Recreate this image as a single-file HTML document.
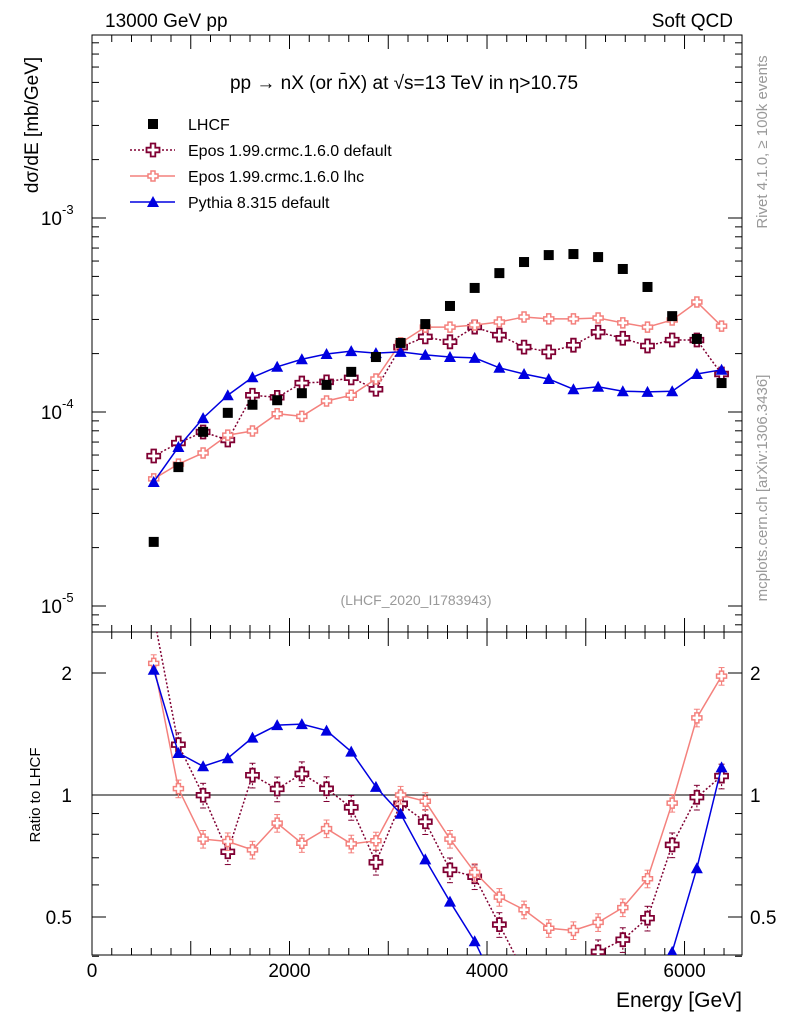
<!DOCTYPE html>
<html><head><meta charset="utf-8"><style>
html,body{margin:0;background:#fff;width:786px;height:1024px;overflow:hidden;position:relative;}
svg{display:block;font-family:"Liberation Sans",sans-serif;}
</style></head><body>
<svg id="chart" width="786" height="1024" style="position:absolute;left:0;top:0"></svg>
<script>
const energies=[625,875,1125,1375,1625,1875,2125,2375,2625,2875,3125,3375,3625,3875,4125,4375,4625,4875,5125,5375,5625,5875,6125,6375];
const lhcf=[2.14e-5,5.2e-5,7.9e-5,9.9e-5,1.09e-4,1.15e-4,1.25e-4,1.38e-4,1.61e-4,1.92e-4,2.27e-4,2.84e-4,3.52e-4,4.36e-4,5.2e-4,5.93e-4,6.44e-4,6.52e-4,6.29e-4,5.46e-4,4.41e-4,3.12e-4,2.38e-4,1.41e-4];
const eposDef=[5.93e-5,6.92e-5,7.89e-5,7.17e-5,1.22e-4,1.19e-4,1.41e-4,1.43e-4,1.50e-4,1.31e-4,2.16e-4,2.44e-4,2.30e-4,2.74e-4,2.49e-4,2.16e-4,2.04e-4,2.21e-4,2.58e-4,2.40e-4,2.19e-4,2.35e-4,2.35e-4,1.57e-4];
const eposLhc=[4.52e-5,5.39e-5,6.15e-5,7.6e-5,7.98e-5,9.8e-5,9.5e-5,1.14e-4,1.22e-4,1.48e-4,2.27e-4,2.74e-4,2.74e-4,2.81e-4,2.91e-4,3.09e-4,3.02e-4,3.02e-4,3.05e-4,2.88e-4,2.74e-4,2.98e-4,3.69e-4,2.77e-4];
const pythia=[4.36e-5,6.6e-5,9.3e-5,1.22e-4,1.51e-4,1.71e-4,1.87e-4,1.99e-4,2.06e-4,2.01e-4,2.04e-4,1.97e-4,1.92e-4,1.90e-4,1.69e-4,1.57e-4,1.48e-4,1.31e-4,1.35e-4,1.28e-4,1.27e-4,1.28e-4,1.57e-4,1.65e-4];
const xTicks=[0,2000,4000,6000];
const yTickLabels=["10","10","10"];
const yTickExp=[-3,-4,-5];
const ratioTicks=[0.5,1,2];

const NS="http://www.w3.org/2000/svg";
const svg=document.getElementById('chart');
const L=92,R=742,T=35,MB=632,RB=955;
function X(e){return L+e*(R-L)/6582;}
function Y(v){return 218-(Math.log10(v)+3)*194;}
function YR(r){return 795-Math.log2(r)*122;}
function el(tag,attrs,parent){const e=document.createElementNS(NS,tag);for(const k in attrs)e.setAttribute(k,attrs[k]);(parent||svg).appendChild(e);return e;}
function txt(s,attrs,parent){const e=el('text',attrs,parent);e.textContent=s;return e;}

const defs=el('defs',{});
const c1=el('clipPath',{id:'cm'},defs);el('rect',{x:L,y:T,width:R-L,height:MB-T},c1);
const c2=el('clipPath',{id:'cr'},defs);el('rect',{x:L,y:MB,width:R-L,height:RB-MB},c2);

let f=el('rect',{x:L,y:T,width:R-L,height:MB-T,fill:'none',stroke:'#000','stroke-width':1});

f=el('rect',{x:L,y:MB,width:R-L,height:RB-MB,fill:'none',stroke:'#000','stroke-width':1});


for(let d=-6;d<=-2;d++){for(let m=1;m<10;m++){const v=m*Math.pow(10,d);const y=Y(v);if(y<T||y>MB)continue;const len=m===1?14:7;
el('line',{x1:L,x2:L+len,y1:y,y2:y,stroke:'#000'});el('line',{x1:R,x2:R-len,y1:y,y2:y,stroke:'#000'});}}
yTickExp.forEach((p,i)=>{const y=Y(Math.pow(10,p));const g=el('g',{});

txt(yTickLabels[i],{x:62,y:y+7,'font-size':19,'text-anchor':'end'},g);txt(String(p),{x:62,y:y-4,'font-size':13},g);});

for(let e=0;e<=6500;e+=200){const x=X(e);const len=e%1000===0?14:7;
el('line',{x1:x,x2:x,y1:RB,y2:RB-len,stroke:'#000'});el('line',{x1:x,x2:x,y1:MB,y2:MB-len,stroke:'#000'});el('line',{x1:x,x2:x,y1:T,y2:T+len,stroke:'#000'});el('line',{x1:x,x2:x,y1:MB,y2:MB+len,stroke:'#000'});}
xTicks.forEach(t=>{const e=txt(String(t),{x:X(t),y:977,'font-size':19,'text-anchor':'middle'});
});

[0.4,0.5,0.6,0.7,0.8,0.9,1,2].forEach(r=>{const y=YR(r);const len=(r===0.5||r===1||r===2)?14:7;
el('line',{x1:L,x2:L+len,y1:y,y2:y,stroke:'#000'});el('line',{x1:R,x2:R-len,y1:y,y2:y,stroke:'#000'});});
ratioTicks.forEach(r=>{let e=txt(String(r),{x:72,y:YR(r)+7,'font-size':19,'text-anchor':'end'});

e=txt(String(r),{x:750,y:YR(r)+7,'font-size':19});
});
el('line',{x1:L,x2:R,y1:YR(1),y2:YR(1),stroke:'#000'});

function marker(kind,x,y,color,parent){
 if(kind==='sq')return el('rect',{x:x-5,y:y-5,width:10,height:10,fill:'#000'},parent);
 if(kind==='tri')return el('path',{d:`M${x},${y-6}L${x+6},${y+5}L${x-6},${y+5}Z`,fill:color},parent);
 const s=kind==='cross'?6.5:5,w=kind==='cross'?2.3:2;
 return el('path',{d:`M${x-w},${y-s}H${x+w}V${y-w}H${x+s}V${y+w}H${x+w}V${y+s}H${x-w}V${y+w}H${x-s}V${y-w}H${x-w}Z`,fill:'#fff',stroke:color,'stroke-width':kind==='cross'?1.8:1.5},parent);
}
const series=[
 {name:'epos-default',vals:eposDef,color:'#800033',kind:'cross',dash:'2,2',err:0.07},
 {name:'epos-lhc',vals:eposLhc,color:'#f4817d',kind:'pcross',dash:null,err:0.05},
 {name:'pythia',vals:pythia,color:'#0000e0',kind:'tri',dash:null,err:0}
];
const gm=el('g',{'clip-path':'url(#cm)'});
const gr=el('g',{'clip-path':'url(#cr)'});
series.forEach(s=>{
 const g=el('g',{},gm);
 const pts=energies.map((e,i)=>X(e)+','+Y(s.vals[i])).join(' ');
 const pl={points:pts,fill:'none',stroke:s.color,'stroke-width':1.5};if(s.dash)pl['stroke-dasharray']=s.dash;
 el('polyline',pl,g);
 energies.forEach((e,i)=>{const m=marker(s.kind,X(e),Y(s.vals[i]),s.color,g);
  });
 const g2=el('g',{},gr);
 const rp=energies.map((e,i)=>X(e)+','+YR(s.vals[i]/lhcf[i])).join(' ');
 const pl2={points:rp,fill:'none',stroke:s.color,'stroke-width':1.5};if(s.dash)pl2['stroke-dasharray']=s.dash;
 el('polyline',pl2,g2);
 energies.forEach((e,i)=>{const r=s.vals[i]/lhcf[i];const x=X(e);
  if(s.err){const a={x1:x,x2:x,y1:YR(r*(1+s.err)),y2:YR(r*(1-s.err)),stroke:s.color,'stroke-width':1.2};if(s.dash)a['stroke-dasharray']='2,2';el('line',a,g2);
   el('line',{x1:x-3,x2:x+3,y1:YR(r*(1+s.err)),y2:YR(r*(1+s.err)),stroke:s.color},g2);el('line',{x1:x-3,x2:x+3,y1:YR(r*(1-s.err)),y2:YR(r*(1-s.err)),stroke:s.color},g2);}
  const m=marker(s.kind,x,YR(r),s.color,g2);
  });
});
const gl=el('g',{'clip-path':'url(#cm)'});
energies.forEach((e,i)=>{const m=marker('sq',X(e),Y(lhcf[i]),'#000',gl);
 });

const leg=[['LHCF','sq','#000',null],['Epos 1.99.crmc.1.6.0 default','cross','#800033','2,2'],['Epos 1.99.crmc.1.6.0 lhc','pcross','#f4817d',null],['Pythia 8.315 default','tri','#0000e0',null]];
leg.forEach((l,i)=>{const y=124+i*26;const g=el('g',{});
 
 if(i>0){const a={x1:130,x2:175,y1:y,y2:y,stroke:l[2],'stroke-width':1.5};if(l[3])a['stroke-dasharray']=l[3];el('line',a,g);}
 marker(l[1],153,y,l[2],g);txt(l[0],{x:188,y:y+6,'font-size':16},g);});
</script>
<svg width="786" height="1024" style="position:absolute;left:0;top:0;font-family:'Liberation Sans',sans-serif">
<text x="105" y="27" font-size="19">13000 GeV pp</text>
<text x="733" y="27" font-size="19" text-anchor="end">Soft QCD</text>
<text x="404" y="89" font-size="19" text-anchor="middle">pp → nX (or n̄X) at √s=13 TeV in η&gt;10.75</text>
<text x="416" y="605" font-size="14" fill="#999" text-anchor="middle">(LHCF_2020_I1783943)</text>
<text transform="translate(38,125) rotate(-90)" font-size="19" text-anchor="middle">dσ/dE [mb/GeV]</text>
<text transform="translate(40,795) rotate(-90)" font-size="15" text-anchor="middle">Ratio to LHCF</text>
<text x="742" y="1007" font-size="21" text-anchor="end">Energy [GeV]</text>
<text transform="translate(767,142) rotate(-90)" font-size="15" fill="#999" text-anchor="middle">Rivet 4.1.0, ≥ 100k events</text>
<text transform="translate(767,488) rotate(-90)" font-size="15" fill="#999" text-anchor="middle">mcplots.cern.ch [arXiv:1306.3436]</text>
</svg>
</body></html>
